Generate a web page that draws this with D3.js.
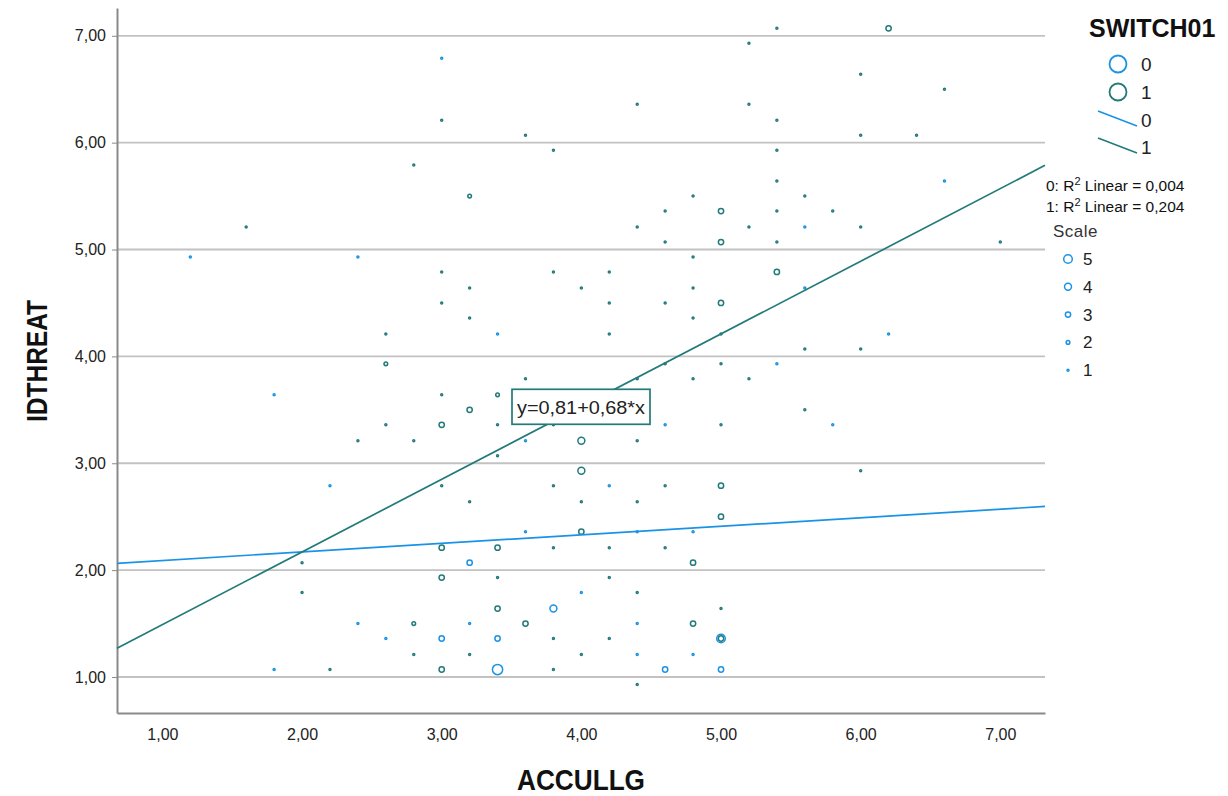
<!DOCTYPE html>
<html>
<head>
<meta charset="utf-8">
<script src="https://cdn.jsdelivr.net/npm/d3@7"></script>
<style>
body { margin: 0; background: #fff; }
svg { display: block; font-family: "Liberation Sans", Arial, sans-serif; }
</style>
</head>
<body>
<svg width="1228" height="796"></svg>
<script>
// SWITCH01 = 0 : [ACCULLG, IDTHREAT, count]
var points0 = [
    [1.2, 4.93, 1], [2.4, 4.93, 1], [1.8, 3.64, 1], [3.0, 6.79, 1], [6.6, 5.64, 1],
    [5.6, 5.21, 1], [3.4, 4.21, 1], [4.6, 3.36, 1], [3.6, 3.21, 1], [5.6, 4.64, 1],
    [6.2, 4.21, 1], [5.4, 3.93, 1], [5.8, 3.36, 1], [2.2, 2.79, 1], [2.4, 1.5, 1],
    [2.6, 1.36, 1], [1.8, 1.07, 1], [4.2, 2.79, 1], [3.6, 2.36, 1], [4.4, 2.36, 1],
    [4.8, 2.36, 1], [3.2, 2.07, 3], [4.0, 1.79, 1], [3.8, 1.64, 4], [3.2, 1.5, 1],
    [4.4, 1.5, 1], [3.0, 1.36, 3], [3.4, 1.36, 3], [5.0, 1.36, 5], [4.4, 1.21, 1],
    [4.8, 1.21, 1], [3.4, 1.07, 6], [4.6, 1.07, 3], [5.0, 1.07, 3]
];
// SWITCH01 = 1
var points1 = [
    [2.8, 5.79, 1], [1.6, 5.21, 1], [3.0, 6.21, 1], [3.6, 6.07, 1], [4.4, 6.36, 1],
    [5.2, 6.93, 1], [5.2, 6.36, 1], [3.8, 5.93, 1], [3.2, 5.5, 2], [4.8, 5.5, 1],
    [4.6, 5.36, 1], [5.0, 5.36, 3], [4.4, 5.21, 1], [5.2, 5.21, 1], [4.6, 5.07, 1],
    [5.0, 5.07, 3], [5.4, 7.07, 1], [6.2, 7.07, 3], [6.0, 6.64, 1], [6.6, 6.5, 1],
    [5.4, 6.21, 1], [6.0, 6.07, 1], [6.4, 6.07, 1], [5.4, 5.93, 1], [5.4, 5.64, 1],
    [5.6, 5.5, 1], [5.4, 5.36, 1], [5.8, 5.36, 1], [6.0, 5.21, 1], [5.4, 5.07, 1],
    [7.0, 5.07, 1], [2.6, 4.21, 1], [2.6, 3.93, 2], [2.6, 3.36, 1], [2.4, 3.21, 1],
    [2.8, 3.21, 1], [4.8, 4.93, 1], [3.0, 4.79, 1], [3.8, 4.79, 1], [4.2, 4.79, 1],
    [3.2, 4.64, 1], [4.0, 4.64, 1], [4.8, 4.64, 1], [3.0, 4.5, 1], [4.2, 4.5, 1],
    [4.6, 4.5, 1], [5.0, 4.5, 3], [3.2, 4.36, 1], [4.8, 4.36, 1], [4.2, 4.21, 1],
    [5.0, 4.21, 1], [4.6, 3.93, 1], [5.0, 3.93, 1], [3.6, 3.79, 1], [4.4, 3.79, 1],
    [4.8, 3.79, 1], [5.2, 3.79, 1], [3.0, 3.64, 1], [3.4, 3.64, 2], [3.2, 3.5, 3],
    [3.0, 3.36, 3], [3.4, 3.36, 1], [3.8, 3.36, 1], [5.0, 3.36, 1], [4.0, 3.21, 4],
    [4.4, 3.21, 1], [3.4, 3.07, 1], [4.0, 2.93, 4], [5.4, 4.79, 3], [5.6, 4.07, 1],
    [6.0, 4.07, 1], [5.6, 3.5, 1], [6.0, 2.93, 1], [2.0, 2.07, 1], [2.0, 1.79, 1],
    [2.8, 1.5, 2], [2.8, 1.21, 1], [2.2, 1.07, 1], [3.0, 2.79, 1], [3.8, 2.79, 1],
    [4.6, 2.79, 1], [5.0, 2.79, 3], [3.2, 2.64, 1], [4.0, 2.64, 1], [4.4, 2.64, 1],
    [5.0, 2.5, 3], [4.0, 2.36, 3], [3.0, 2.21, 3], [3.4, 2.21, 3], [3.8, 2.21, 1],
    [4.2, 2.21, 1], [4.6, 2.21, 1], [4.8, 2.07, 3], [3.0, 1.93, 3], [3.4, 1.93, 1],
    [4.2, 1.93, 1], [4.4, 1.79, 1], [3.4, 1.64, 3], [5.0, 1.64, 1], [3.6, 1.5, 3],
    [4.8, 1.5, 3], [3.8, 1.36, 1], [4.2, 1.36, 1], [5.0, 1.36, 3], [3.2, 1.21, 1],
    [4.0, 1.21, 1], [3.0, 1.07, 3], [3.8, 1.07, 1], [4.4, 0.93, 1]
];
// fit lines: [intercept, slope]
var fit0 = [2.01, 0.08];
var fit1 = [0.81, 0.68];
var r2Labels = ["0: R", "1: R"];
var r2Values = ["0,004", "0,204"];
var groupLabels = ["0", "1"];
var scaleLabels = [5, 4, 3, 2, 1];
var xTicks = [1, 2, 3, 4, 5, 6, 7];
var yTicks = [1, 2, 3, 4, 5, 6, 7];

var blue = "#1a93e6", teal = "#237a7a";
var colors = [blue, teal];

var svg = d3.select("svg");
var x = d3.scaleLinear().domain([0.675, 7.32]).range([117, 1045]);
var y = d3.scaleLinear().domain([0.663, 7.26]).range([713, 8]);
var rScale = d3.scaleLinear().domain([1, 5]).range([1.0, 4.3]);

var locale = d3.formatLocale({decimal: ",", thousands: ".", grouping: [3], currency: ["", ""]});
var fmt = locale.format(".2f");

// grid lines
svg.append("g")
    .selectAll("line")
    .data(yTicks)
    .enter().append("line")
    .attr("x1", x.range()[0])
    .attr("x2", x.range()[1])
    .attr("y1", function (d) { return y(d); })
    .attr("y2", function (d) { return y(d); })
    .attr("stroke", "#c2c2c2")
    .attr("stroke-width", 1.8);

// axes
var yAxis = svg.append("g")
    .attr("transform", "translate(117,0)")
    .call(d3.axisLeft(y).tickValues(yTicks).tickFormat(fmt).tickSizeInner(5).tickSizeOuter(0).tickPadding(6));
var xAxis = svg.append("g")
    .attr("transform", "translate(0,713)")
    .call(d3.axisBottom(x).tickValues(xTicks).tickFormat(fmt).tickSize(0).tickPadding(16));
[xAxis, yAxis].forEach(function (a) {
    a.select(".domain").attr("stroke", "#8a8a8a").attr("stroke-width", 2);
    a.selectAll(".tick line").attr("stroke", "#8a8a8a");
    a.selectAll("text").attr("font-size", 16).attr("fill", "#222")
        .attr("font-family", "'Liberation Sans', Arial, sans-serif");
});

// points
[points0, points1].forEach(function (pts, i) {
    svg.append("g")
        .selectAll("circle")
        .data(pts)
        .enter().append("circle")
        .attr("cx", function (d) { return x(d[0]); })
        .attr("cy", function (d) { return y(d[1]); })
        .attr("r", function (d) { return rScale(d[2]); })
        .attr("fill", "none")
        .attr("stroke", colors[i])
        .attr("stroke-width", 1.5);
});

// fit lines
[fit0, fit1].forEach(function (f, i) {
    var x0 = x.domain()[0], x1 = x.domain()[1];
    svg.append("line")
        .attr("x1", x(x0)).attr("y1", y(f[0] + f[1] * x0))
        .attr("x2", x(x1)).attr("y2", y(f[0] + f[1] * x1))
        .attr("stroke", colors[i])
        .attr("stroke-width", 1.7);
});

// equation label on the SWITCH01=1 line
var midX = (x.domain()[0] + x.domain()[1]) / 2;
var lab = svg.append("g")
    .attr("transform", "translate(" + x(midX) + "," + y(fit1[0] + fit1[1] * midX) + ")");
lab.append("rect")
    .attr("x", -69).attr("y", -17.5)
    .attr("width", 138).attr("height", 35)
    .attr("fill", "#fff")
    .attr("stroke", teal)
    .attr("stroke-width", 1.7);
lab.append("text")
    .attr("text-anchor", "middle")
    .attr("y", 7)
    .attr("font-size", 19)
    .attr("textLength", 128).attr("lengthAdjust", "spacingAndGlyphs")
    .attr("fill", "#222")
    .text("y=" + fmt(fit1[0]) + "+" + fmt(fit1[1]) + "*x");

// axis titles
svg.append("text")
    .attr("x", 581).attr("y", 790)
    .attr("text-anchor", "middle")
    .attr("font-size", 30).attr("font-weight", "bold")
    .attr("textLength", 128).attr("lengthAdjust", "spacingAndGlyphs")
    .attr("fill", "#111")
    .text("ACCULLG");
svg.append("text")
    .attr("transform", "translate(47,361) rotate(-90)")
    .attr("text-anchor", "middle")
    .attr("font-size", 30).attr("font-weight", "bold")
    .attr("textLength", 122).attr("lengthAdjust", "spacingAndGlyphs")
    .attr("fill", "#111")
    .text("IDTHREAT");

// legend
var leg = svg.append("g");
leg.append("text")
    .attr("x", 1089).attr("y", 37)
    .attr("font-size", 25).attr("font-weight", "bold")
    .attr("fill", "#111")
    .text("SWITCH01");

groupLabels.forEach(function (g, i) {
    var cy = 64 + i * 28;
    leg.append("circle")
        .attr("cx", 1118).attr("cy", cy).attr("r", 8.5)
        .attr("fill", "none").attr("stroke", colors[i]).attr("stroke-width", 1.8);
    leg.append("text")
        .attr("x", 1141).attr("y", cy + 7)
        .attr("font-size", 19).attr("fill", "#222")
        .text(g);
    var ly = 111 + i * 27;
    leg.append("line")
        .attr("x1", 1098).attr("y1", ly)
        .attr("x2", 1137).attr("y2", ly + 15)
        .attr("stroke", colors[i]).attr("stroke-width", 1.6);
    leg.append("text")
        .attr("x", 1141).attr("y", ly + 16)
        .attr("font-size", 19).attr("fill", "#222")
        .text(g);
    var t = leg.append("text")
        .attr("x", 1046).attr("y", 191 + i * 21)
        .attr("font-size", 15.5).attr("fill", "#111");
    t.append("tspan").text(r2Labels[i]);
    t.append("tspan").attr("dy", -6).attr("font-size", 11).text("2");
    t.append("tspan").attr("dy", 6).text(" Linear = " + r2Values[i]);
});

leg.append("text")
    .attr("x", 1053).attr("y", 237)
    .attr("font-size", 17).attr("fill", "#333")
    .attr("letter-spacing", 0.5)
    .text("Scale");

leg.selectAll("g.scale")
    .data(scaleLabels)
    .enter().append("g")
    .attr("class", "scale")
    .each(function (d, i) {
        var cy = 259 + i * 27.8;
        d3.select(this).append("circle")
            .attr("cx", 1068).attr("cy", cy).attr("r", rScale(d))
            .attr("fill", "none").attr("stroke", blue).attr("stroke-width", 1.5);
        d3.select(this).append("text")
            .attr("x", 1083).attr("y", cy + 6)
            .attr("font-size", 17).attr("fill", "#222")
            .text(d);
    });
</script>
</body>
</html>
